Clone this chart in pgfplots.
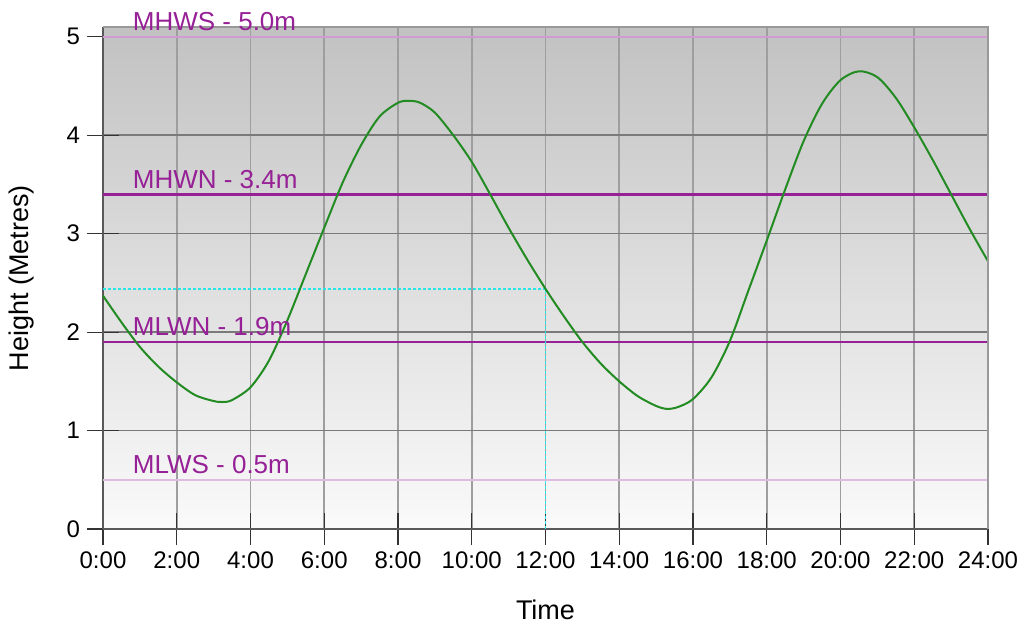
\documentclass[border=0pt]{standalone}
\usepackage{pgfplots}
\pgfplotsset{compat=1.18}
\usepackage{fontspec}
\setmainfont{Liberation Sans}
\definecolor{purp}{RGB}{150,32,150}
\definecolor{tide}{RGB}{34,139,34}
\definecolor{aqua}{RGB}{40,230,230}

\begin{document}
\begin{tikzpicture}
\begin{axis}[
    name=ax,
    width=442.5pt, height=251pt, scale only axis,
    xmin=0, xmax=24, ymin=0, ymax=5.1,
    clip=false,
    axis lines*=left,
    axis line style={draw=black!65, line width=0.9pt},
    axis background/.style={top color=black!24, bottom color=black!2},
    xtick={0,2,...,24},
    xticklabels={0:00,2:00,4:00,6:00,8:00,10:00,12:00,14:00,16:00,18:00,20:00,22:00,24:00},
    ytick={0,1,2,3,4,5},
    /pgf/number format/assume math mode=true,
    xmajorgrids, ymajorgrids,
    x grid style={black!38, line width=0.8pt},
    y grid style={black!52, line width=0.8pt},
    tick align=center,
    major tick length=16pt,
    tick style={black!80, line width=0.6pt},
    tick label style={font=\fontsize{12}{14}\selectfont},
    xlabel={Time}, ylabel={Height (Metres)},
    every axis x label/.style={at={(rel axis cs:0.5,0)}, anchor=center,
        yshift=-40.5pt, font=\fontsize{13.5}{16}\selectfont},
    every axis y label/.style={at={(rel axis cs:0,0.5)}, anchor=center,
        xshift=-40.5pt, rotate=90, font=\fontsize{13.5}{16}\selectfont},
]

% tidal reference levels
\addplot[purp!45, line width=0.8pt] coordinates {(0,5.0)(24,5.0)};
\addplot[purp, line width=1.2pt] coordinates {(0,3.4)(24,3.4)};
\addplot[purp, line width=1.2pt] coordinates {(0,1.9)(24,1.9)};
\addplot[purp!30, line width=0.8pt] coordinates {(0,0.5)(24,0.5)};

% cursor at 12:00
\addplot[aqua, line width=0.9pt, dash pattern=on 1.5pt off 1pt] coordinates {(0,2.44)(12,2.44)(12,0)};

% predicted height
\addplot[tide, line width=1pt, smooth] coordinates {
    (0,2.37)(0.5,2.10)(1.0,1.85)(1.5,1.65)(2.0,1.49)(2.5,1.36)(3.0,1.30)
    (3.25,1.29)(3.5,1.31)(4.0,1.44)(4.5,1.71)(5.0,2.12)(5.5,2.59)(6.0,3.06)
    (6.5,3.52)(7.0,3.90)(7.5,4.19)(8.0,4.33)(8.3,4.35)(8.6,4.33)(9.0,4.23)
    (9.5,4.00)(10.0,3.73)(10.5,3.40)(11.0,3.06)(11.5,2.74)(12.0,2.44)
    (12.5,2.16)(13.0,1.90)(13.5,1.68)(14.0,1.50)(14.5,1.35)(15.0,1.25)
    (15.3,1.22)(15.6,1.24)(16.0,1.32)(16.5,1.54)(17.0,1.91)(17.5,2.42)
    (18.0,2.93)(18.5,3.45)(19.0,3.94)(19.5,4.32)(20.0,4.56)(20.5,4.65)
    (21.0,4.59)(21.5,4.38)(22.0,4.08)(22.5,3.75)(23.0,3.40)(23.5,3.05)(24.0,2.72)};

\draw[black!40, line width=0.8pt] (rel axis cs:0,1) -- (rel axis cs:1,1) -- (rel axis cs:1,0);

\begin{scope}[every node/.style={anchor=base west, text=purp, inner sep=0pt,
        font=\fontsize{13}{15}\selectfont}]
\node at (axis cs:0.8,5.0) [yshift=3pt] {MHWS - 5.0m};
\node at (axis cs:0.8,3.4) [yshift=3pt] {MHWN - 3.4m};
\node at (axis cs:0.8,1.9) [yshift=3pt] {MLWN - 1.9m};
\node at (axis cs:0.8,0.5) [yshift=3pt] {MLWS - 0.5m};
\end{scope}
\end{axis}
\pgfresetboundingbox
\path ([xshift=-51.5pt,yshift=-48pt]ax.south west) rectangle ([xshift=18.5pt,yshift=13.5pt]ax.north east);
\end{tikzpicture}
\end{document}
